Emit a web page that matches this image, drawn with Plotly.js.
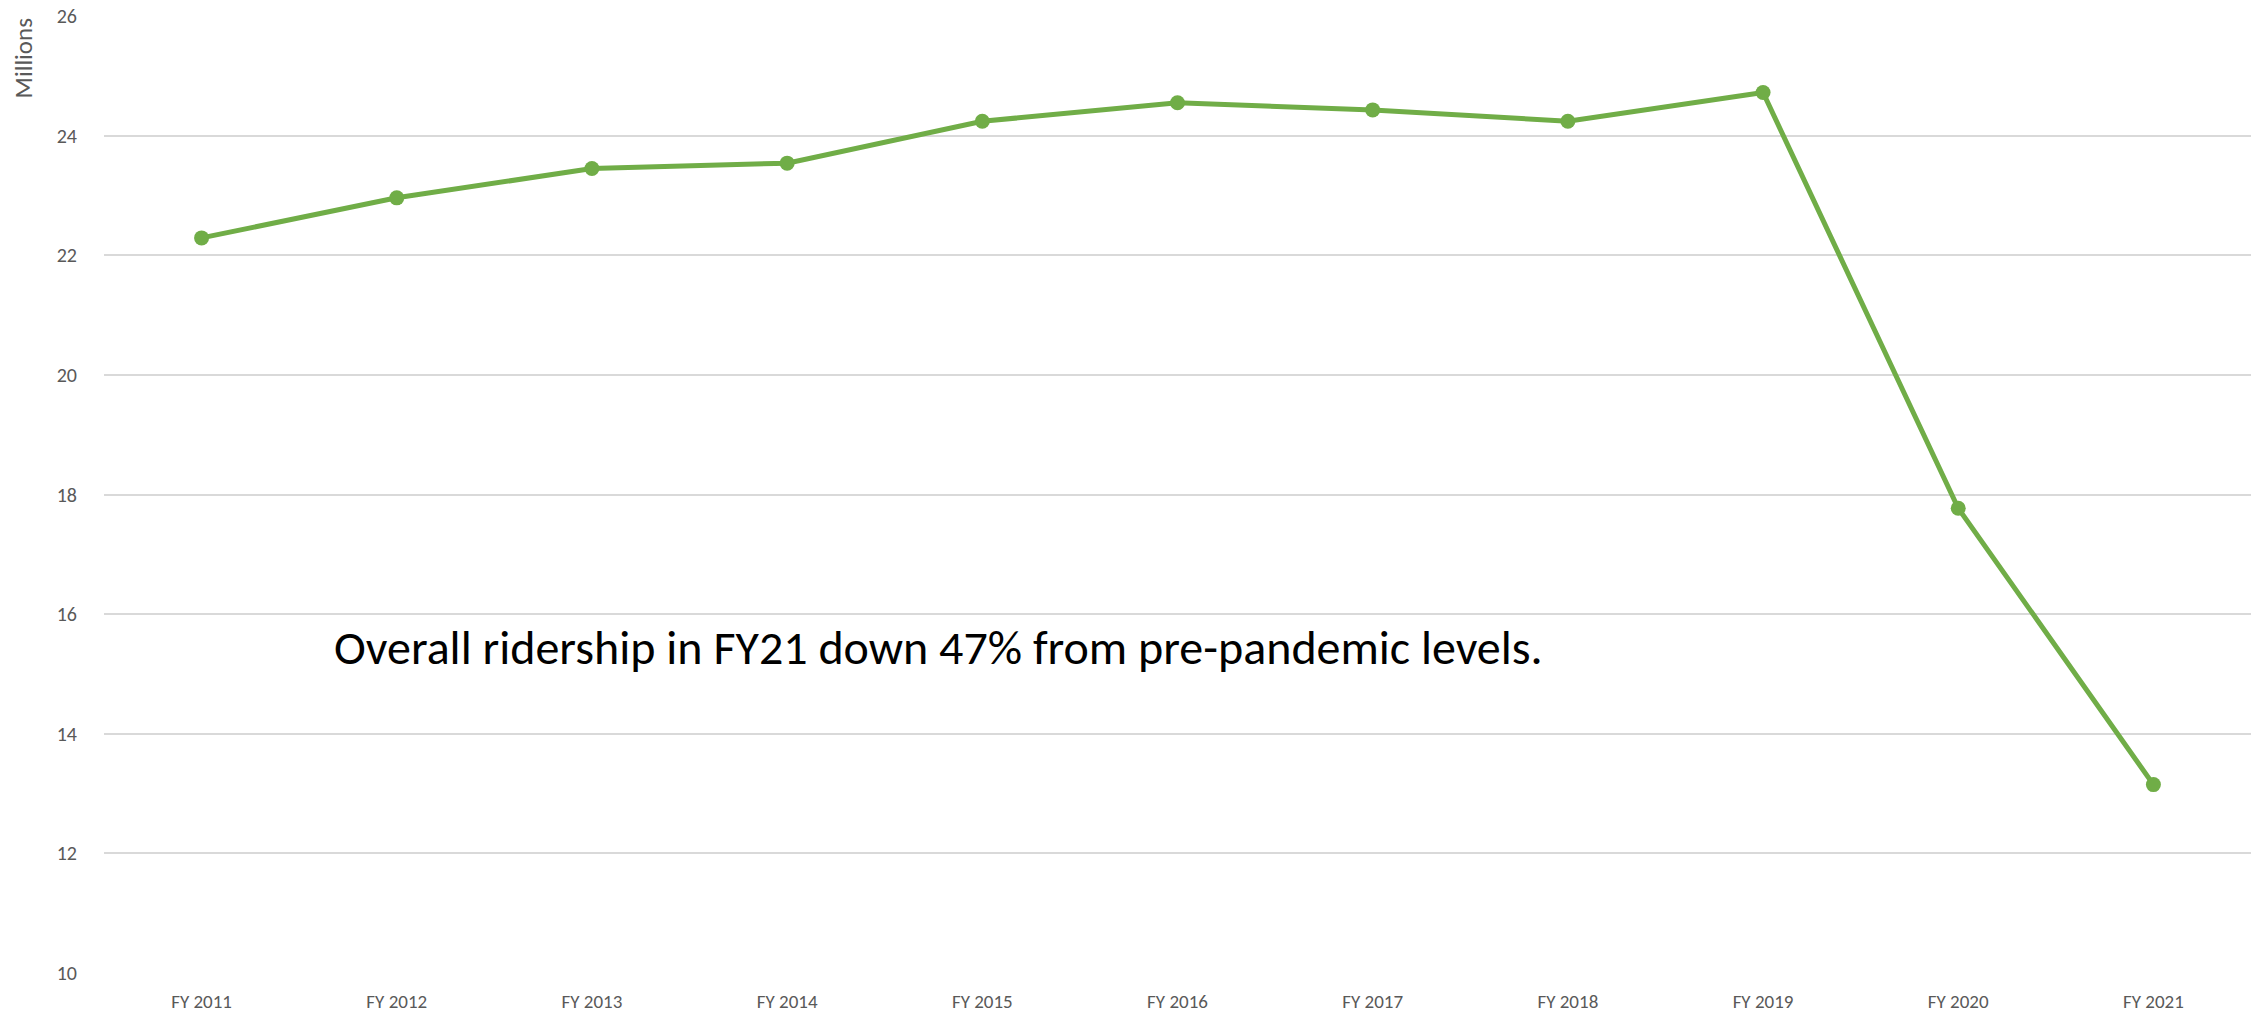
<!DOCTYPE html>
<html>
<head>
<meta charset="utf-8">
<script src="https://cdn.plot.ly/plotly-3.0.1.min.js"></script>
<style>html,body{margin:0;padding:0;background:#fff;}#chart{width:2264px;height:1018px;}</style>
</head>
<body>
<div id="chart"></div>
<script>
const categories = ["FY 2011","FY 2012","FY 2013","FY 2014","FY 2015","FY 2016","FY 2017","FY 2018","FY 2019","FY 2020","FY 2021"];
const ridership = [22.29, 22.96, 23.45, 23.54, 24.24, 24.55, 24.43, 24.24, 24.72, 17.77, 13.15];
const yTicks = [10,12,14,16,18,20,22,24,26];
const yAxisLabel = "Millions";
const noteText = "Overall ridership in FY21 down 47% from pre-pandemic levels.";

const fontFam = "Carlito, Calibri, 'Open Sans', sans-serif";

const trace = {
  x: categories,
  y: ridership,
  type: 'scatter',
  mode: 'lines+markers',
  line: {color: '#70ad47', width: 5},
  marker: {color: '#70ad47', size: 15},
  hoverinfo: 'x+y',
  showlegend: false
};

const layout = {
  width: 2264,
  height: 1018,
  margin: {l: 104, r: 13, t: 16, b: 45},
  paper_bgcolor: '#ffffff',
  plot_bgcolor: '#ffffff',
  font: {family: fontFam, color: '#595959', size: 20},
  xaxis: {
    type: 'category',
    range: [-0.5, categories.length - 0.5],
    showgrid: false,
    showline: false,
    zeroline: false,
    ticks: '',
    tickfont: {size: 19, color: '#595959'},
    ticklabelstandoff: 15
  },
  yaxis: {
    range: [10, 26],
    tickvals: yTicks,
    ticktext: yTicks.map(String),
    showgrid: true,
    gridcolor: '#d9d9d9',
    gridwidth: 2,
    zeroline: false,
    showline: false,
    ticks: '',
    tickfont: {size: 20, color: '#595959'},
    ticklabelstandoff: 26
  },
  annotations: [
    {
      text: noteText,
      xref: 'paper', yref: 'y',
      x: (332 - 104) / 2147, y: 15.44,
      xanchor: 'left', yanchor: 'middle',
      showarrow: false,
      font: {family: fontFam, size: 48, color: '#000000'}
    },
    {
      text: yAxisLabel,
      xref: 'paper', yref: 'y',
      x: (23 - 104) / 2147, y: 25.29,
      xanchor: 'center', yanchor: 'middle',
      textangle: -90,
      showarrow: false,
      font: {family: fontFam, size: 25, color: '#595959'}
    }
  ]
};

Plotly.newPlot('chart', [trace], layout, {displayModeBar: false, staticPlot: true});
</script>
</body>
</html>
